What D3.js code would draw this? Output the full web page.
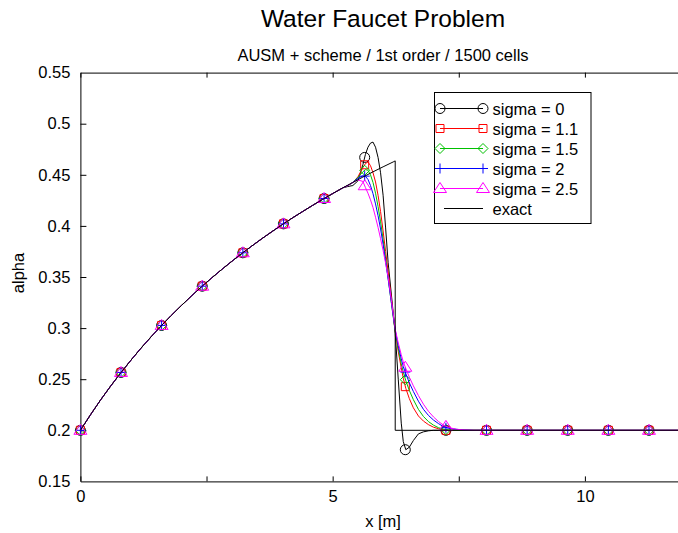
<!DOCTYPE html>
<html>
<head>
<meta charset="utf-8">
<script src="https://cdn.jsdelivr.net/npm/d3@7"></script>
<style>
  body { margin: 0; background: #fff; }
  text { font-family: "Liberation Sans", Arial, sans-serif; fill: #000; }
</style>
</head>
<body>
<div id="chart"></div>
<script>
// smooth part of the profile, shared by every run and by the exact solution
var smoothX = [0, 0.2, 0.4, 0.6, 0.8, 1.0, 1.2, 1.4, 1.6, 1.8, 2.0, 2.2, 2.4, 2.6, 2.8,
  3.0, 3.2, 3.4, 3.6, 3.8, 4.0, 4.2, 4.4, 4.6, 4.8, 5.0, 5.2];
var smoothAlpha = [0.2, 0.2152, 0.2297, 0.2433, 0.2562, 0.2685, 0.2803, 0.2914, 0.3021,
  0.3123, 0.3220, 0.3314, 0.3404, 0.3490, 0.3573, 0.3653, 0.3730, 0.3804, 0.3876,
  0.3945, 0.4012, 0.4077, 0.4139, 0.4200, 0.4259, 0.4316, 0.4372];

// void-fraction front
var frontX = [5.3, 5.4, 5.5, 5.6, 5.65, 5.7, 5.75, 5.8, 5.85, 5.9, 5.95, 6.0, 6.05, 6.1,
  6.17, 6.24, 6.3, 6.36, 6.4, 6.45, 6.52, 6.6, 6.7, 6.8, 6.9, 7.0, 7.1, 7.2, 7.3, 7.45,
  7.6, 7.8, 8.0, 12.0];
var sigma0Front = [0.4385, 0.4395, 0.444, 0.460, 0.470, 0.477, 0.481, 0.482, 0.477, 0.467,
  0.452, 0.430, 0.398, 0.364, 0.330, 0.295, 0.250, 0.207, 0.189, 0.181, 0.1835, 0.190,
  0.1965, 0.1985, 0.1995, 0.2, 0.2, 0.2, 0.2, 0.2, 0.2, 0.2, 0.2, 0.2];
var sigma11Front = [0.4395, 0.4425, 0.448, 0.457, 0.461, 0.4625, 0.459, 0.452, 0.443, 0.430,
  0.414, 0.395, 0.375, 0.355, 0.326, 0.297, 0.277, 0.261, 0.251, 0.241, 0.231, 0.222,
  0.214, 0.209, 0.2055, 0.203, 0.2015, 0.2005, 0.2, 0.2, 0.2, 0.2, 0.2, 0.2];
var sigma15Front = [0.4395, 0.4425, 0.4475, 0.453, 0.455, 0.4545, 0.450, 0.4425, 0.432, 0.419,
  0.404, 0.387, 0.368, 0.349, 0.322, 0.297, 0.280, 0.265, 0.257, 0.2485, 0.239, 0.230,
  0.2205, 0.2135, 0.2085, 0.205, 0.2025, 0.201, 0.2005, 0.2, 0.2, 0.2, 0.2, 0.2];
var sigma2Front = [0.4395, 0.4425, 0.4465, 0.449, 0.4485, 0.4455, 0.4395, 0.4315, 0.4215, 0.410,
  0.397, 0.382, 0.365, 0.348, 0.323, 0.298, 0.283, 0.270, 0.262, 0.2555, 0.2465, 0.238,
  0.2285, 0.2205, 0.2145, 0.210, 0.2065, 0.2035, 0.202, 0.201, 0.2003, 0.2, 0.2, 0.2];
var sigma25Front = [0.4395, 0.4425, 0.445, 0.4435, 0.4375, 0.432, 0.4255, 0.418, 0.4085, 0.3985,
  0.3875, 0.376, 0.3635, 0.350, 0.325, 0.299, 0.2855, 0.274, 0.267, 0.2605, 0.252, 0.2435,
  0.234, 0.2255, 0.2185, 0.213, 0.2085, 0.205, 0.2028, 0.201, 0.2004, 0.2, 0.2, 0.2];

// point symbols, every 100th cell
var markerX = [0, 0.805, 1.61, 2.415, 3.22, 4.025, 4.83, 5.635, 6.44, 7.245, 8.05, 8.855,
  9.66, 10.465, 11.27];
var sigma0Marks = [0.2, 0.2566, 0.3026, 0.3410, 0.3737, 0.4020, 0.4268, 0.467, 0.181, 0.2,
  0.2, 0.2, 0.2, 0.2, 0.2];
var sigma11Marks = [0.2, 0.2566, 0.3026, 0.3410, 0.3737, 0.4020, 0.4268, 0.4598, 0.2427, 0.2,
  0.2, 0.2, 0.2, 0.2, 0.2];
var sigma15Marks = [0.2, 0.2566, 0.3026, 0.3410, 0.3737, 0.4020, 0.4268, 0.4544, 0.2495, 0.2007,
  0.2, 0.2, 0.2, 0.2, 0.2];
var sigma2Marks = [0.2, 0.2566, 0.3026, 0.3410, 0.3737, 0.4020, 0.4268, 0.4487, 0.257, 0.2025,
  0.2, 0.2, 0.2, 0.2, 0.2];
var sigma25Marks = [0.2, 0.2566, 0.3026, 0.3410, 0.3737, 0.4020, 0.4268, 0.4393, 0.2617, 0.2038,
  0.2, 0.2, 0.2, 0.2, 0.2];

// exact solution
var exactX = smoothX.concat([5.4, 5.6, 5.8, 6.0, 6.2, 6.24, 6.24, 12.0]);
var exactAlpha = smoothAlpha.concat([0.4425, 0.4478, 0.4529, 0.4578, 0.4626, 0.4636, 0.2, 0.2]);

var seriesNames = ["sigma = 0", "sigma = 1.1", "sigma = 1.5", "sigma = 2", "sigma = 2.5"];
var seriesColors = ["#000000", "#ff0000", "#00c000", "#0000ff", "#ff00ff"];
var seriesSymbols = ["circle", "square", "diamond", "plus", "triangle"];
var seriesFronts = [sigma0Front, sigma11Front, sigma15Front, sigma2Front, sigma25Front];
var seriesMarks = [sigma0Marks, sigma11Marks, sigma15Marks, sigma2Marks, sigma25Marks];

var yTicks = [0.15, 0.2, 0.25, 0.3, 0.35, 0.4, 0.45, 0.5, 0.55];
var xTicks = [0, 2.5, 5, 7.5, 10];
var xLabeled = [0, 5, 10];

var W = 678, H = 533;
var x = d3.scaleLinear().domain([0, 12]).range([80.4, 685.8]);
var y = d3.scaleLinear().domain([0.15, 0.55]).range([481.4, 72.6]);

var svg = d3.select("#chart").append("svg")
  .attr("width", W).attr("height", H)
  .style("background", "#fff");

// titles
svg.append("text").attr("x", 383).attr("y", 27).attr("text-anchor", "middle")
  .style("font-size", "24.5px").text("Water Faucet Problem");
svg.append("text").attr("x", 383).attr("y", 61).attr("text-anchor", "middle")
  .style("font-size", "16.5px").text("AUSM + scheme / 1st order / 1500 cells");

// axes
var fmtX = function(d) { return xLabeled.indexOf(d) >= 0 ? d3.format("d")(d) : ""; };

var gx = svg.append("g").attr("transform", "translate(0," + y(0.15) + ")")
  .call(d3.axisBottom(x).tickValues(xTicks).tickFormat(fmtX).tickSizeInner(-5).tickSizeOuter(0).tickPadding(9));
var gxTop = svg.append("g").attr("transform", "translate(0," + y(0.55) + ")")
  .call(d3.axisTop(x).tickValues(xTicks).tickFormat("").tickSizeInner(-5).tickSizeOuter(0));
var gy = svg.append("g").attr("transform", "translate(" + x(0) + ",0)")
  .call(d3.axisLeft(y).tickValues(yTicks).tickFormat(d3.format("")).tickSizeInner(-6).tickSizeOuter(0).tickPadding(10));

[gx, gxTop, gy].forEach(function(g) {
  g.selectAll("text").style("font-size", "16.5px").style("font-family", '"Liberation Sans", Arial, sans-serif');
  g.select(".domain").attr("stroke", "#000");
  g.selectAll(".tick line").attr("stroke", "#000");
});
gy.selectAll(".tick").filter(function(d) { return d === 0.15 || d === 0.55; })
  .select("line").remove();

svg.append("text").attr("x", 383).attr("y", 527).attr("text-anchor", "middle")
  .style("font-size", "16.5px").text("x [m]");
svg.append("text").attr("transform", "translate(24,273) rotate(-90)").attr("text-anchor", "middle")
  .style("font-size", "16.5px").text("alpha");

// symbols
function drawSymbol(g, type, cx, cy, color) {
  var p = d3.path();
  if (type === "circle") {
    g.append("circle").attr("cx", cx).attr("cy", cy).attr("r", 5)
      .attr("fill", "none").attr("stroke", color);
    return;
  }
  if (type === "square") {
    p.rect(cx - 4, cy - 4, 8, 8);
  } else if (type === "diamond") {
    p.moveTo(cx, cy - 5); p.lineTo(cx + 5, cy); p.lineTo(cx, cy + 5); p.lineTo(cx - 5, cy); p.closePath();
  } else if (type === "plus") {
    p.moveTo(cx - 5, cy); p.lineTo(cx + 5, cy); p.moveTo(cx, cy - 5); p.lineTo(cx, cy + 5);
  } else if (type === "triangle") {
    p.moveTo(cx, cy - 6); p.lineTo(cx + 6.5, cy + 4); p.lineTo(cx - 6.5, cy + 4); p.closePath();
  }
  g.append("path").attr("d", p.toString()).attr("fill", "none").attr("stroke", color);
}

var line = d3.line().x(function(d) { return x(d[0]); }).y(function(d) { return y(d[1]); });
var plot = svg.append("g");

seriesNames.forEach(function(name, i) {
  var pts = d3.zip(smoothX.concat(frontX), smoothAlpha.concat(seriesFronts[i]));
  plot.append("path").datum(pts).attr("d", line)
    .attr("fill", "none").attr("stroke", seriesColors[i]).attr("stroke-width", 1);
  var mg = plot.append("g");
  d3.zip(markerX, seriesMarks[i]).forEach(function(m) {
    drawSymbol(mg, seriesSymbols[i], x(m[0]), y(m[1]), seriesColors[i]);
  });
});

plot.append("path").datum(d3.zip(exactX, exactAlpha)).attr("d", line)
  .attr("fill", "none").attr("stroke", "#000").attr("stroke-width", 1);

// legend
var leg = svg.append("g");
leg.append("rect").attr("x", 434.5).attr("y", 92.5).attr("width", 156.5).attr("height", 131)
  .attr("fill", "#fff").attr("stroke", "#000");
var legNames = seriesNames.concat(["exact"]);
legNames.forEach(function(name, i) {
  var yy = 108.5 + i * 20;
  var color = i < 5 ? seriesColors[i] : "#000";
  leg.append("line").attr("x1", i < 5 ? 440 : 444).attr("x2", 483).attr("y1", yy).attr("y2", yy)
    .attr("stroke", color);
  if (i < 5) {
    drawSymbol(leg, seriesSymbols[i], 440, yy, color);
    drawSymbol(leg, seriesSymbols[i], 483, yy, color);
  }
  leg.append("text").attr("x", 492.5).attr("y", yy + 6).style("font-size", "16.5px").text(name);
});
</script>
</body>
</html>
